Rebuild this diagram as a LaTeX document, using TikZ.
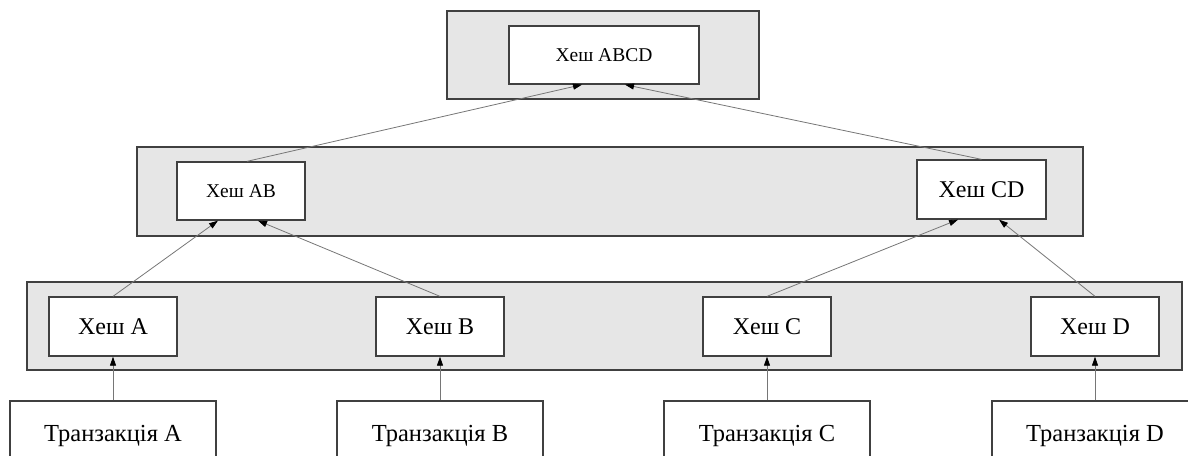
\documentclass[tikz,border=0pt]{standalone}
\usepackage{fontspec}
\setmainfont{Liberation Serif}
\usetikzlibrary{arrows.meta, positioning}
\definecolor{layergray}{HTML}{E6E6E6}
\definecolor{edgegray}{HTML}{404040}
\definecolor{linkgray}{HTML}{767676}

\tikzset{
  layer/.style={draw=edgegray, line width=1.3pt, fill=layergray, inner sep=0pt},
  hashbox/.style={draw=edgegray, line width=1.3pt, fill=white, inner sep=0pt,
    font=\fontsize{24}{28}\selectfont},
  smallhash/.style={hashbox, font=\fontsize{19.5}{23}\selectfont},
  txbox/.style={draw=edgegray, line width=1.3pt, fill=white, inner sep=0pt,
    minimum width=206pt, minimum height=69pt, font=\fontsize{24.5}{28}\selectfont},
  link/.style={linkgray, line width=0.8pt, -{Triangle[length=9pt, width=6pt, black]}}
}

\begin{document}
\begin{tikzpicture}[x=1pt, y=-1pt]
\clip (0,0) rectangle (1188,455);

% layers
\node[layer, minimum width=312pt, minimum height=88pt] (top) at (603,55) {};
\node[layer, minimum width=946pt, minimum height=89pt] (mid) at (610,191.5) {};
\node[layer, minimum width=1155pt, minimum height=88pt] (bot) at (604.5,326) {};

% hashes
\node[smallhash, minimum width=190pt, minimum height=58pt] (hABCD) at (604,55) {Хеш ABCD};
\node[smallhash, minimum width=128pt, minimum height=58pt] (hAB) at (241,191) {Хеш AB};
\node[hashbox, minimum width=129pt, minimum height=59pt] (hCD) at (981.5,189.5) {Хеш CD};
\node[hashbox, minimum width=128pt, minimum height=59pt] (hA) at (113,326.5) {Хеш A};
\node[hashbox, minimum width=128pt, minimum height=59pt] (hB) at (440,326.5) {Хеш B};
\node[hashbox, minimum width=128pt, minimum height=59pt] (hC) at (767,326.5) {Хеш C};
\node[hashbox, minimum width=128pt, minimum height=59pt] (hD) at (1095,326.5) {Хеш D};

% transactions
\node[txbox] (tA) at (113,435.5) {Транзакція A};
\node[txbox] (tB) at (440,435.5) {Транзакція B};
\node[txbox] (tC) at (767,435.5) {Транзакція C};
\node[txbox] (tD) at (1095,435.5) {Транзакція D};

% links
\foreach \t/\h in {tA/hA, tB/hB, tC/hC, tD/hD} {
  \draw[link] (\t.north) -- (\h.south);
}
\draw[link] (hA.north) -- ([xshift=-23pt]hAB.south);
\draw[link] (hB.north) -- ([xshift=17pt]hAB.south);
\draw[link] (hC.north) -- ([xshift=-23.5pt]hCD.south);
\draw[link] (hD.north) -- ([xshift=17.5pt]hCD.south);
\draw[link] ([xshift=6pt]hAB.north) -- ([xshift=-22pt]hABCD.south);
\draw[link] (hCD.north) -- ([xshift=21pt]hABCD.south);
\end{tikzpicture}
\end{document}
